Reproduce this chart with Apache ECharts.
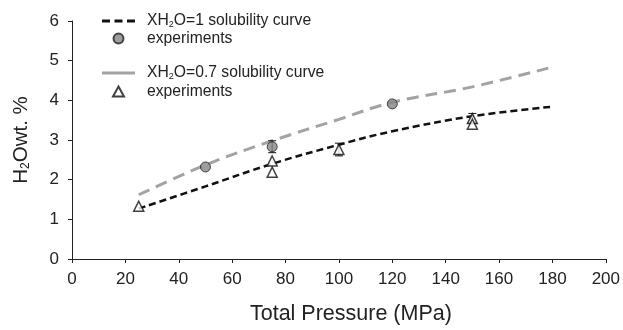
<!DOCTYPE html>
<html>
<head>
<meta charset="utf-8">
<script src="https://cdn.jsdelivr.net/npm/echarts@6/dist/echarts.min.js"></script>
<style>html,body{margin:0;padding:0;background:#fff;}#c{width:623px;height:330px;}</style>
</head>
<body>
<div id="c"></div>
<script>
// Solubility curves
const curveX = [25, 50, 75, 100, 120, 150, 180];
const curveXH1 = [1.27, 1.83, 2.40, 2.88, 3.22, 3.60, 3.84];
const curveXH07 = [1.62, 2.37, 2.98, 3.52, 3.95, 4.34, 4.84];
// Experiments
const circleX = [50, 75, 120];
const circleY = [2.32, 2.83, 3.91];
const triX = [25, 75, 75, 100, 150, 150];
const triY = [1.33, 2.47, 2.19, 2.76, 3.54, 3.40];
// Error bars [x, low, high]
const errX = [75, 100, 150];
const errLow = [2.68, 2.60, 3.42];
const errHigh = [2.98, 2.92, 3.67];
const xTicks = [0, 20, 40, 60, 80, 100, 120, 140, 160, 180, 200];
const yTicks = [0, 1, 2, 3, 4, 5, 6];

const FONT = 'Liberation Sans, Arial, Helvetica, sans-serif';
const zip = (a, b) => a.map((v, i) => [v, b[i]]);
const legendNames = {
  xh1: '{a|XH}{s|2}{a|O=1 solubility curve}',
  exp1: '{a|experiments}',
  xh07: '{a|XH}{s|2}{a|O=0.7 solubility curve}',
  exp2: '{a|experiments}'
};
const legendRich = {
  a: {fontSize: 15.7, fontFamily: FONT, color: '#222', lineHeight: 17},
  s: {fontSize: 9, fontFamily: FONT, color: '#222', lineHeight: 6, verticalAlign: 'bottom'}
};
const dashIcon = 'path://M0,0h8v3h-8z M12.5,0h8v3h-8z M25,0h8v3h-8z';
const solidIcon = 'path://M0,0h33v3h-33z';
const triIcon = 'path://M5.5,0L11,10L0,10Z';

const chart = echarts.init(document.getElementById('c'), null, {renderer: 'canvas'});
chart.setOption({
  animation: false,
  backgroundColor: '#fff',
  grid: {left: 72, right: 17, top: 21, bottom: 69, containLabel: false},
  legend: [
    {
      data: [{name: 'xh1', icon: dashIcon}, {name: 'exp1', icon: 'circle'}],
      orient: 'vertical', left: 97, top: 8,
      itemWidth: 33, itemHeight: 10, itemGap: 1, symbolKeepAspect: true,
      formatter: n => legendNames[n], textStyle: {rich: legendRich, padding: [0, 0, 0, 7]}
    },
    {
      data: [{name: 'xh07', icon: solidIcon}, {name: 'exp2', icon: triIcon}],
      orient: 'vertical', left: 97, top: 60,
      itemWidth: 33, itemHeight: 10, itemGap: 2, symbolKeepAspect: true,
      formatter: n => legendNames[n], textStyle: {rich: legendRich, padding: [0, 0, 0, 7]}
    }
  ],
  xAxis: {
    type: 'value', min: 0, max: 200, interval: 20,
    name: 'Total Pressure (MPa)', nameLocation: 'middle', nameGap: 44,
    nameTextStyle: {fontSize: 21.5, fontFamily: FONT, color: '#222', padding: [0, 0, 0, 24]},
    axisLine: {show: true, lineStyle: {color: '#222', width: 1}},
    axisTick: {show: true, length: 4, lineStyle: {color: '#222'}},
    axisLabel: {fontSize: 17, fontFamily: FONT, color: '#222', margin: 12,
      formatter: v => xTicks.includes(v) ? String(v) : ''},
    splitLine: {show: false}
  },
  yAxis: {
    type: 'value', min: 0, max: 6, interval: 1,
    name: '{a|H}{s|2}{a|Owt. %}', nameLocation: 'middle', nameGap: 40, nameRotate: 90,
    nameTextStyle: {rich: {
      a: {fontSize: 20.5, fontFamily: FONT, color: '#222', lineHeight: 22},
      s: {fontSize: 12, fontFamily: FONT, color: '#222', lineHeight: 8, verticalAlign: 'bottom'}
    }},
    axisLine: {show: true, lineStyle: {color: '#222', width: 1}},
    axisTick: {show: true, length: 4, lineStyle: {color: '#222'}},
    axisLabel: {fontSize: 17, fontFamily: FONT, color: '#222', margin: 13,
      formatter: v => yTicks.includes(v) ? String(v) : ''},
    splitLine: {show: false}
  },
  series: [
    {
      name: 'xh07', type: 'line', data: zip(curveX, curveXH07), smooth: 0.4,
      symbol: 'none', z: 2,
      lineStyle: {color: '#a3a3a3', width: 3, type: [12, 7]},
      itemStyle: {color: '#a3a3a3'}
    },
    {
      name: 'xh1', type: 'line', data: zip(curveX, curveXH1), smooth: 0.4,
      symbol: 'none', z: 3,
      lineStyle: {color: '#111', width: 2.5, type: [7, 4]},
      itemStyle: {color: '#111'}
    },
    {
      name: 'err', type: 'custom', z: 4,
      data: errX.map((x, i) => [x, errLow[i], errHigh[i]]),
      renderItem: (params, api) => {
        const lo = api.coord([api.value(0), api.value(1)]);
        const hi = api.coord([api.value(0), api.value(2)]);
        const w = 4;
        const st = {stroke: '#111', lineWidth: 1};
        return {type: 'group', children: [
          {type: 'line', shape: {x1: lo[0], y1: lo[1], x2: hi[0], y2: hi[1]}, style: st},
          {type: 'line', shape: {x1: lo[0] - w, y1: lo[1], x2: lo[0] + w, y2: lo[1]}, style: st},
          {type: 'line', shape: {x1: hi[0] - w, y1: hi[1], x2: hi[0] + w, y2: hi[1]}, style: st}
        ]};
      }
    },
    {
      name: 'exp1', type: 'scatter', data: zip(circleX, circleY), z: 5,
      symbol: 'circle', symbolSize: 10,
      itemStyle: {color: '#858585', borderColor: '#222', borderWidth: 1}
    },
    {
      name: 'exp2', type: 'scatter', data: zip(triX, triY), z: 5,
      symbol: 'triangle', symbolSize: 10,
      itemStyle: {color: '#fff', borderColor: '#111', borderWidth: 1.5}
    }
  ]
});
</script>
</body>
</html>
